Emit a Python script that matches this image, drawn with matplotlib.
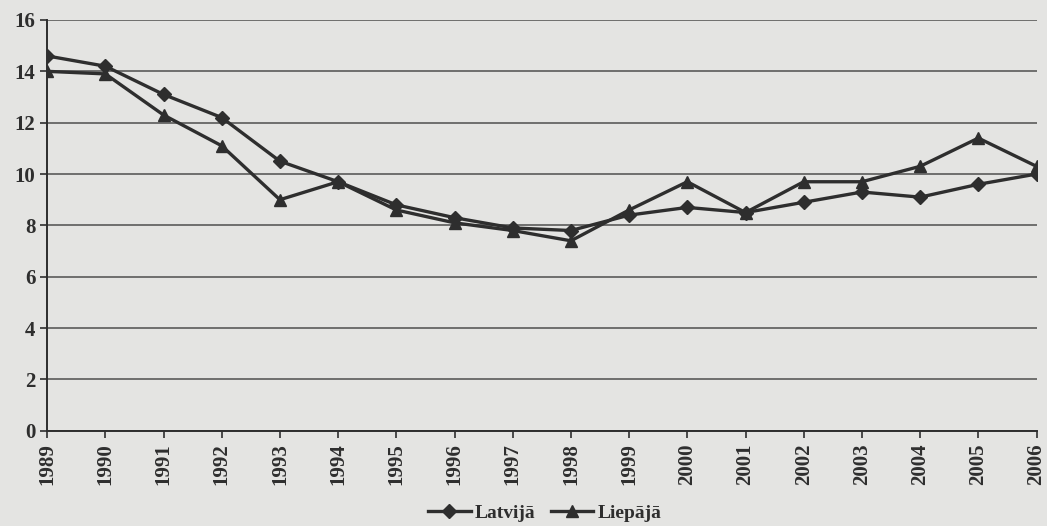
import matplotlib
matplotlib.use("Agg")
import matplotlib.pyplot as plt

years = [1989, 1990, 1991, 1992, 1993, 1994, 1995, 1996, 1997, 1998,
         1999, 2000, 2001, 2002, 2003, 2004, 2005, 2006]
latvija = [14.6, 14.2, 13.1, 12.2, 10.5, 9.7, 8.8, 8.3, 7.9, 7.8,
           8.4, 8.7, 8.5, 8.9, 9.3, 9.1, 9.6, 10.0]
liepaja = [14.0, 13.9, 12.3, 11.1, 9.0, 9.7, 8.6, 8.1, 7.8, 7.4,
           8.6, 9.7, 8.5, 9.7, 9.7, 10.3, 11.4, 10.3]
y_ticks = [0, 2, 4, 6, 8, 10, 12, 14, 16]

plt.rcParams["font.family"] = ["Liberation Serif", "DejaVu Serif"]
plt.rcParams["font.weight"] = "bold"

bg = "#e4e4e2"
ink = "#2e2e2e"

fig = plt.figure(figsize=(10.47, 5.26), dpi=100, facecolor=bg)
ax = fig.add_axes([0.045, 0.181, 0.945, 0.781], facecolor=bg)

ax.plot(years, latvija, color=ink, lw=2.4, marker="D", ms=7, label="Latvijā")
ax.plot(years, liepaja, color=ink, lw=2.4, marker="^", ms=9, label="Liepājā")

ax.set_xlim(years[0], years[-1])
ax.set_ylim(0, 16)
ax.set_yticks(y_ticks)
ax.set_xticks(years)
ax.set_xticklabels([str(y) for y in years], rotation=90, fontsize=15, fontweight="bold")
ax.set_yticklabels([str(v) for v in y_ticks], fontsize=15, fontweight="bold")

ax.grid(axis="y", color="#5a5a5a", lw=1.2)
ax.set_axisbelow(True)
for side in ("top", "right"):
    ax.spines[side].set_visible(False)
for side in ("left", "bottom"):
    ax.spines[side].set_color(ink)
    ax.spines[side].set_linewidth(1.4)
ax.tick_params(axis="both", colors=ink, length=5, width=1.2, direction="out")
ax.tick_params(axis="x", pad=4)

leg = fig.legend(loc="lower center", bbox_to_anchor=(0.52, -0.025), ncol=2,
                 frameon=False, fontsize=14, handlelength=2.2, columnspacing=0.8,
                 handletextpad=0.2)
for t in leg.get_texts():
    t.set_fontweight("bold")
    t.set_color(ink)

fig.savefig("out.png", dpi=100, facecolor=bg)
